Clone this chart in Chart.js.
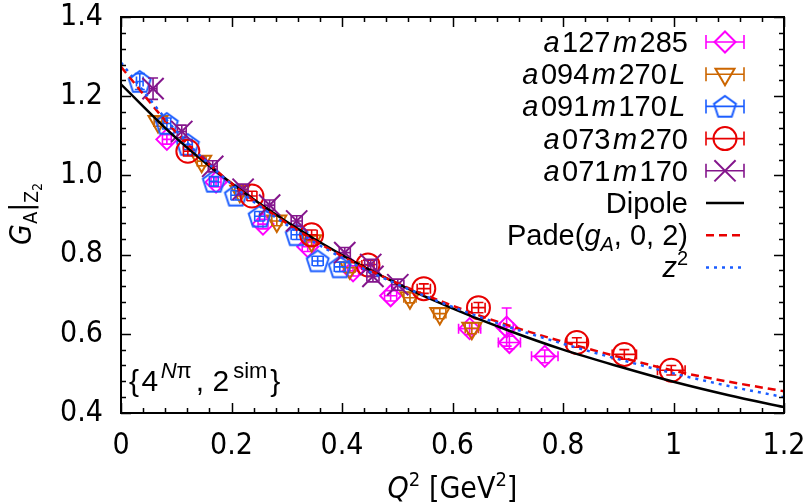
<!DOCTYPE html>
<html>
<head>
<meta charset="utf-8">
<script src="https://cdn.jsdelivr.net/npm/chart.js@4.4.0/dist/chart.umd.min.js"></script>
<style>
  html, body { margin: 0; padding: 0; background: #fff; }
</style>
</head>
<body>
<canvas id="chart" width="806" height="503"></canvas>
<script>
// lattice ensembles: Q^2, G_A, errors
const q2A127 = [0.083, 0.172, 0.257, 0.338, 0.420, 0.488, 0.631, 0.698, 0.703, 0.767];
const gaA127 = [1.091, 0.983, 0.877, 0.820, 0.759, 0.696, 0.613, 0.617, 0.578, 0.543];
const dq2A127 = [0.008, 0.009, 0.009, 0.010, 0.010, 0.011, 0.020, 0.012, 0.020, 0.024];
const dgaA127 = [0.012, 0.012, 0.012, 0.012, 0.013, 0.013, 0.015, 0.048, 0.016, 0.016];

const q2A094 = [0.067, 0.146, 0.215, 0.282, 0.345, 0.414, 0.523, 0.577, 0.635];
const gaA094 = [1.136, 1.036, 0.960, 0.885, 0.835, 0.767, 0.691, 0.651, 0.614];
const dq2A094 = [0.007, 0.008, 0.009, 0.009, 0.010, 0.010, 0.011, 0.011, 0.012];
const dgaA094 = [0.012, 0.012, 0.012, 0.012, 0.012, 0.013, 0.013, 0.013, 0.014];

const q2A091 = [0.034, 0.083, 0.121, 0.168, 0.208, 0.251, 0.318, 0.356, 0.396];
const gaA091 = [1.237, 1.131, 1.078, 0.985, 0.950, 0.897, 0.850, 0.784, 0.769];
const dq2A091 = [0.006, 0.007, 0.008, 0.008, 0.009, 0.009, 0.010, 0.010, 0.010];
const dgaA091 = [0.020, 0.014, 0.013, 0.012, 0.012, 0.012, 0.012, 0.012, 0.012];

const q2A073 = [0.121, 0.237, 0.345, 0.447, 0.548, 0.647, 0.825, 0.911, 0.996];
const gaA073 = [1.061, 0.948, 0.850, 0.774, 0.714, 0.666, 0.578, 0.548, 0.508];
const dq2A073 = [0.008, 0.009, 0.010, 0.011, 0.012, 0.012, 0.018, 0.022, 0.025];
const dgaA073 = [0.012, 0.012, 0.012, 0.012, 0.012, 0.013, 0.012, 0.012, 0.012];

const q2A071 = [0.058, 0.110, 0.166, 0.221, 0.269, 0.318, 0.405, 0.452, 0.456, 0.501];
const gaA071 = [1.219, 1.111, 1.023, 0.965, 0.925, 0.885, 0.805, 0.775, 0.745, 0.724];
const dq2A071 = [0.007, 0.008, 0.008, 0.009, 0.009, 0.010, 0.010, 0.011, 0.011, 0.011];
const dgaA071 = [0.027, 0.016, 0.014, 0.013, 0.013, 0.013, 0.013, 0.013, 0.014, 0.014];

// fit curves
const curveQ2 = [0, 0.1, 0.2, 0.3, 0.4, 0.5, 0.6, 0.7, 0.8, 0.9, 1.0, 1.1, 1.2];
const dipoleGA = [1.230, 1.094, 0.980, 0.883, 0.799, 0.727, 0.664, 0.609, 0.560, 0.518, 0.479, 0.445, 0.415];
const padeGA = [1.274, 1.108, 0.980, 0.879, 0.796, 0.728, 0.671, 0.622, 0.580, 0.542, 0.507, 0.479, 0.455];
const z2GA = [1.285, 1.112, 0.978, 0.875, 0.792, 0.725, 0.668, 0.618, 0.575, 0.536, 0.500, 0.468, 0.440];

const xTicks = [0, 0.2, 0.4, 0.6, 0.8, 1, 1.2];
const yTicks = [0.4, 0.6, 0.8, 1.0, 1.2, 1.4];

const FONT = '"Liberation Sans", Arial, sans-serif';
const NARROW = '"Liberation Sans Narrow", "DejaVu Sans Condensed", "Liberation Sans", sans-serif';
const COLORS = {
    magenta: '#ff00ff',
    orange: '#cc6600',
    blue: '#1a5cff',
    red: '#e80000',
    purple: '#84168c',
    black: '#000000'
};

// pentagon marker (not built into Chart.js)
function makePentagon(color, r, lw) {
    const size = Math.ceil(2 * r + 2 * lw + 2);
    const c = document.createElement('canvas');
    c.width = size; c.height = size;
    const g = c.getContext('2d');
    g.strokeStyle = color; g.lineWidth = lw; g.lineJoin = 'miter';
    g.beginPath();
    for (let k = 0; k < 5; k++) {
        const a = -Math.PI / 2 + k * 2 * Math.PI / 5;
        const px = size / 2 + r * Math.cos(a), py = size / 2 + 1 + r * Math.sin(a);
        if (k === 0) g.moveTo(px, py); else g.lineTo(px, py);
    }
    g.closePath(); g.stroke();
    return c;
}
const pentagon = makePentagon(COLORS.blue, 11.5, 2);

function toPoints(xs, ys) {
    return xs.map((x, i) => ({ x: x, y: ys[i] }));
}

function pointSet(label, xs, ys, ex, ey, color, style, radius, rotation, order) {
    return {
        label: label,
        data: toPoints(xs, ys),
        errX: ex, errY: ey,
        showLine: false,
        pointStyle: style,
        pointRadius: radius,
        pointRotation: rotation,
        borderColor: color,
        backgroundColor: 'rgba(0,0,0,0)',
        pointBorderWidth: 2,
        pointHoverRadius: radius,
        order: order
    };
}

function curveSet(label, ys, color, dash, order) {
    return {
        label: label,
        data: toPoints(curveQ2, ys),
        showLine: true,
        pointRadius: 0,
        borderColor: color,
        borderWidth: 2.5,
        borderDash: dash,
        cubicInterpolationMode: 'monotone',
        fill: false,
        order: order
    };
}

const datasets = [
    pointSet('a127m285', q2A127, gaA127, dq2A127, dgaA127, COLORS.magenta, 'rectRot', 10.5, 0, 8),
    pointSet('a094m270L', q2A094, gaA094, dq2A094, dgaA094, COLORS.orange, 'triangle', 11, 180, 7),
    pointSet('a091m170L', q2A091, gaA091, dq2A091, dgaA091, COLORS.blue, pentagon, 11, 0, 6),
    pointSet('a073m270', q2A073, gaA073, dq2A073, dgaA073, COLORS.red, 'circle', 11.5, 0, 5),
    pointSet('a071m170', q2A071, gaA071, dq2A071, dgaA071, COLORS.purple, 'crossRot', 15, 0, 4),
    curveSet('Dipole', dipoleGA, COLORS.black, [], 3),
    curveSet('Pade', padeGA, COLORS.red, [8, 5], 2),
    curveSet('z2', z2GA, COLORS.blue, [3, 5], 1)
];

// rich text helpers: segments {t, it, sz, dy, pad, fam}
function segFont(s, base) {
    return (s.it ? 'italic ' : '') + (s.sz || base.sz) + 'px ' + (s.fam || base.fam);
}
function richWidth(ctx, segs, base) {
    let w = 0;
    segs.forEach(s => { ctx.font = segFont(s, base); w += ctx.measureText(s.t).width + 2 * (s.pad || 0); });
    return w;
}
function drawRich(ctx, segs, x, y, align, base) {
    let cx = x;
    const w = richWidth(ctx, segs, base);
    if (align === 'right') cx = x - w;
    if (align === 'center') cx = x - w / 2;
    ctx.textBaseline = 'alphabetic';
    ctx.textAlign = 'left';
    segs.forEach(s => {
        ctx.font = segFont(s, base);
        cx += s.pad || 0;
        ctx.fillText(s.t, cx, y + (s.dy || 0));
        cx += ctx.measureText(s.t).width + (s.pad || 0);
    });
}

const legendRows = [
    { segs: [{ t: 'a', it: true, pad: 2.5 }, { t: '127' }, { t: 'm', it: true, pad: 2.5 }, { t: '285' }], ds: 0 },
    { segs: [{ t: 'a', it: true, pad: 2.5 }, { t: '094' }, { t: 'm', it: true, pad: 2.5 }, { t: '270' }, { t: 'L', it: true, pad: 2.5 }], ds: 1 },
    { segs: [{ t: 'a', it: true, pad: 2.5 }, { t: '091' }, { t: 'm', it: true, pad: 2.5 }, { t: '170' }, { t: 'L', it: true, pad: 2.5 }], ds: 2 },
    { segs: [{ t: 'a', it: true, pad: 2.5 }, { t: '073' }, { t: 'm', it: true, pad: 2.5 }, { t: '270' }], ds: 3 },
    { segs: [{ t: 'a', it: true, pad: 2.5 }, { t: '071' }, { t: 'm', it: true, pad: 2.5 }, { t: '170' }], ds: 4 },
    { segs: [{ t: 'Dipole' }], ds: 5 },
    { segs: [{ t: 'Pade(' }, { t: 'g', it: true }, { t: 'A', it: true, sz: 20, dy: 6 }, { t: ', 0, 2)' }], ds: 6 },
    { segs: [{ t: 'z', it: true }, { t: '2', sz: 20, dy: -12 }], ds: 7 }
];

function drawErrorBar(ctx, x0, x1, xc, y0, y1, yc, cap) {
    ctx.beginPath();
    ctx.moveTo(x0, yc); ctx.lineTo(x1, yc);
    ctx.moveTo(xc, y0); ctx.lineTo(xc, y1);
    ctx.moveTo(x0, yc - cap); ctx.lineTo(x0, yc + cap);
    ctx.moveTo(x1, yc - cap); ctx.lineTo(x1, yc + cap);
    ctx.moveTo(xc - cap, y0); ctx.lineTo(xc + cap, y0);
    ctx.moveTo(xc - cap, y1); ctx.lineTo(xc + cap, y1);
    ctx.stroke();
}

const errorBars = {
    id: 'errorBars',
    afterDatasetDraw(chart, args) {
        const ds = chart.data.datasets[args.index];
        if (!ds.errX) return;
        const ctx = chart.ctx, xs = chart.scales.x, ys = chart.scales.y;
        const area = chart.chartArea;
        ctx.save();
        ctx.beginPath();
        ctx.rect(area.left, area.top, area.right - area.left, area.bottom - area.top);
        ctx.clip();
        ctx.strokeStyle = ds.borderColor;
        ctx.lineWidth = 1.6;
        ds.data.forEach((p, i) => {
            drawErrorBar(ctx,
                xs.getPixelForValue(p.x - ds.errX[i]), xs.getPixelForValue(p.x + ds.errX[i]), xs.getPixelForValue(p.x),
                ys.getPixelForValue(p.y - ds.errY[i]), ys.getPixelForValue(p.y + ds.errY[i]), ys.getPixelForValue(p.y),
                5);
        });
        ctx.restore();
    }
};

const decorations = {
    id: 'decorations',
    afterDraw(chart) {
        const ctx = chart.ctx, xs = chart.scales.x, ys = chart.scales.y;
        const a = chart.chartArea;
        ctx.save();
        ctx.strokeStyle = '#000';
        ctx.lineWidth = 2;
        ctx.strokeRect(a.left, a.top, a.right - a.left, a.bottom - a.top);

        // inward ticks on all four sides, minor every 0.04
        ctx.lineWidth = 1.5;
        ctx.beginPath();
        for (let k = 0; k <= 30; k++) {
            const v = k * 0.04;
            const len = (k % 5 === 0) ? 10 : 5;
            const px = Math.round(xs.getPixelForValue(v)) + 0.5;
            ctx.moveTo(px, a.bottom); ctx.lineTo(px, a.bottom - len);
            ctx.moveTo(px, a.top); ctx.lineTo(px, a.top + len);
        }
        for (let k = 0; k <= 25; k++) {
            const v = 0.4 + k * 0.04;
            const len = (k % 5 === 0) ? 10 : 5;
            const py = Math.round(ys.getPixelForValue(v)) + 0.5;
            ctx.moveTo(a.left, py); ctx.lineTo(a.left + len, py);
            ctx.moveTo(a.right, py); ctx.lineTo(a.right - len, py);
        }
        ctx.stroke();

        ctx.fillStyle = '#000';
        const narrow = { sz: 30, fam: NARROW };
        const legendFont = { sz: 29, fam: FONT };

        // x axis title
        drawRich(ctx, [{ t: 'Q', it: true }, { t: '2', sz: 20, dy: -12 }, { t: ' [GeV' }, { t: '2', sz: 20, dy: -12 }, { t: ']' }],
            (a.left + a.right) / 2, 498, 'center', narrow);

        // y axis title
        ctx.save();
        ctx.translate(31, 214);
        ctx.rotate(-Math.PI / 2);
        drawRich(ctx, [{ t: 'G', it: true }, { t: 'A', sz: 20, dy: 6 }, { t: '|' }, { t: 'Z', sz: 19, dy: 7 }, { t: '2', sz: 14, dy: 11 }],
            0, 0, 'center', narrow);
        ctx.restore();

        // ensemble tag
        drawRich(ctx, [{ t: '{' }, { t: '4', pad: 2.5 }, { t: 'N', it: true, sz: 22, dy: -13 }, { t: 'π', sz: 22, dy: -13 }, { t: ', 2', pad: 4 }, { t: 'sim', sz: 22, dy: -13 }, { t: '}', pad: 3 }],
            129, 391, 'left', { sz: 30, fam: FONT });

        // legend
        const textRight = 688, mx = 725, rowTop = 42, rowStep = 32.2;
        legendRows.forEach((row, i) => {
            const yc = rowTop + i * rowStep;
            ctx.fillStyle = '#000';
            drawRich(ctx, row.segs, textRight, yc + 10, 'right', legendFont);
            const ds = chart.data.datasets[row.ds];
            ctx.strokeStyle = ds.borderColor;
            ctx.fillStyle = 'rgba(0,0,0,0)';
            if (ds.errX) {
                ctx.lineWidth = 1.6;
                ctx.setLineDash([]);
                drawErrorBar(ctx, mx - 19, mx + 19, mx, yc, yc, yc, 7);
                ctx.lineWidth = 2;
                Chart.helpers.drawPoint(ctx, {
                    pointStyle: ds.pointStyle, radius: ds.pointRadius,
                    rotation: ds.pointRotation, borderWidth: 2
                }, mx, yc);
            } else {
                ctx.lineWidth = ds.borderWidth;
                ctx.setLineDash(ds.borderDash);
                ctx.beginPath();
                ctx.moveTo(mx - 19, yc); ctx.lineTo(mx + 19, yc);
                ctx.stroke();
                ctx.setLineDash([]);
            }
        });
        ctx.restore();
    }
};

const tickFont = { family: NARROW, size: 30 };

new Chart(document.getElementById('chart').getContext('2d'), {
    type: 'scatter',
    data: { datasets: datasets },
    options: {
        responsive: false,
        devicePixelRatio: 1,
        animation: false,
        layout: { padding: { left: 0, right: 22, top: 15, bottom: 0 } },
        plugins: { legend: { display: false }, tooltip: { enabled: false } },
        scales: {
            x: {
                type: 'linear', min: 0, max: 1.2,
                afterFit(scale) {
                    scale.height = 90;
                    scale.paddingLeft = 0;
                    scale.paddingRight = 0;
                },
                afterBuildTicks(scale) { scale.ticks = xTicks.map(v => ({ value: v })); },
                ticks: {
                    font: tickFont, color: '#000', padding: 15, maxRotation: 0,
                    callback: v => String(Number(v.toFixed(2)))
                },
                grid: { display: false, drawTicks: false },
                border: { display: false }
            },
            y: {
                type: 'linear', min: 0.4, max: 1.4,
                afterFit(scale) {
                    scale.width = 121;
                    scale.paddingTop = 0;
                    scale.paddingBottom = 0;
                },
                afterBuildTicks(scale) { scale.ticks = yTicks.map(v => ({ value: v })); },
                ticks: {
                    font: tickFont, color: '#000', padding: 18,
                    callback: v => v.toFixed(1)
                },
                grid: { display: false, drawTicks: false },
                border: { display: false }
            }
        }
    },
    plugins: [errorBars, decorations]
});
</script>
</body>
</html>
